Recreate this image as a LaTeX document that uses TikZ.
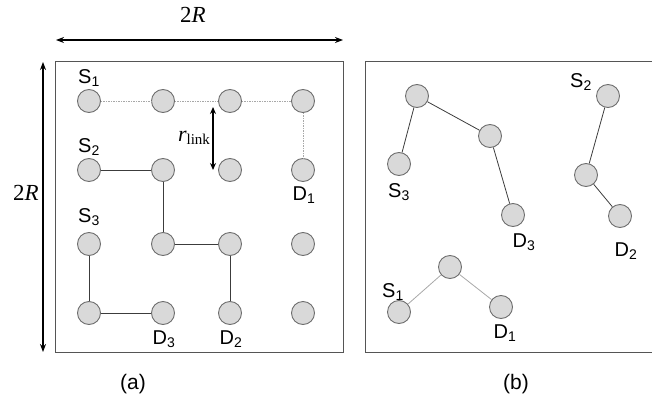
\documentclass[tikz,border=0pt]{standalone}
\usepackage{fontspec}
\setmainfont{Liberation Sans}
\newfontfamily\seriffont{Liberation Serif}
\usetikzlibrary{arrows.meta}
\definecolor{nodefill}{HTML}{D9D9D9}
\definecolor{nodeline}{HTML}{6E6E6E}
\definecolor{boxline}{HTML}{555555}
\definecolor{linkline}{HTML}{3C3C3C}
\definecolor{dotline}{HTML}{A8A8A8}
\tikzset{
  sensor/.style={circle,draw=nodeline,fill=nodefill,line width=0.9pt,minimum size=23pt,inner sep=0pt},
  lbl/.style={font=\fontsize{21}{23}\selectfont,inner sep=0pt},
  sublbl/.style={font=\fontsize{20}{22}\selectfont,inner sep=0pt},
  dimlbl/.style={font=\seriffont\fontsize{23}{25}\selectfont,inner sep=0pt},
  link/.style={draw=linkline,line width=0.8pt},
  dotlink/.style={draw=dotline,line width=0.8pt,dash pattern=on 1.5pt off 1pt},
  faintlink/.style={draw=dotline,line width=0.8pt},
  frame/.style={draw=boxline,line width=1pt},
  dimarrow/.style={line width=1.8pt,{Stealth[length=8pt,width=6pt]}-{Stealth[length=8pt,width=6pt]}}
}
\begin{document}
\begin{tikzpicture}[x=1pt,y=-1pt]
\useasboundingbox (0,0) rectangle (652,409);
% frames
\draw[frame] (55,62) rectangle (343,352);
\draw[frame] (660,62) -- (365,62) -- (365,352) -- (660,352);
\clip (0,0) rectangle (652,409);
% dimension arrows
\coordinate (hl) at (56,40);
\coordinate (hr) at (343,40);
\draw[dimarrow] (hl) -- (hr);
\node[dimlbl] (hlab) at (193,15) {2\textit{R}};
\coordinate (vt) at (43,62);
\coordinate (vb) at (43,352);
\draw[dimarrow] (vt) -- (vb);
\node[dimlbl] (vlab) at (26,193) {2\textit{R}};
% left grid
\foreach \c/\x in {1/89,2/163,3/230,4/303}{
  \foreach \r/\y in {1/101,2/170,3/244,4/313}{
    \node[sensor] (g\r\c) at (\x,\y) {};
  }
}
% dotted route S1 -> D1
\draw[dotlink] (g11) -- (g12) -- (g13) -- (g14) -- (g24);
% S2 -> D2
\draw[link] (g21) -- (g22) -- (g32) -- (g33) -- (g43);
% S3 -> D3
\draw[link] (g31) -- (g41) -- (g42);
% r_link arrow
\coordinate (rt) at (213,107);
\coordinate (rb) at (213,170);
\draw[line width=1.5pt,{Stealth[length=7pt,width=6pt]}-{Stealth[length=7pt,width=6pt]}] (rt) -- (rb);
\node[inner sep=0pt] (rl) at (194,138) {\seriffont\fontsize{22}{24}\selectfont\textit{r}\raisebox{-0.35ex}{\fontsize{15}{17}\selectfont link}};
% left labels
\node[sublbl] (ls1) at (89,78) {S\textsubscript{1}};
\node[sublbl] (ls2) at (89,147) {S\textsubscript{2}};
\node[sublbl] (ls3) at (89,217) {S\textsubscript{3}};
\node[sublbl] (ld1) at (304,195) {D\textsubscript{1}};
\node[sublbl] (ld3) at (164,339) {D\textsubscript{3}};
\node[sublbl] (ld2) at (231,339) {D\textsubscript{2}};
% right panel
\node[sensor] (ra) at (417,96) {};
\node[sensor] (rb2) at (490,136) {};
\node[sensor] (rs3) at (399,164) {};
\node[sensor] (rd3) at (513,215) {};
\node[sensor] (rs2) at (608,96) {};
\node[sensor] (rm) at (586,175) {};
\node[sensor] (rd2) at (620,216) {};
\node[sensor] (rt1) at (450,267) {};
\node[sensor] (rs1) at (399,312) {};
\node[sensor] (rd1) at (501,307) {};
\draw[link] (ra) -- (rs3);
\draw[link] (ra) -- (rb2) -- (rd3);
\draw[link] (rs2) -- (rm) -- (rd2);
\draw[faintlink] (rs1) -- (rt1) -- (rd1);
\node[sublbl] (rls3) at (399,192) {S\textsubscript{3}};
\node[sublbl] (rld3) at (524,242) {D\textsubscript{3}};
\node[sublbl] (rls2) at (581,82) {S\textsubscript{2}};
\node[sublbl] (rld2) at (626,251) {D\textsubscript{2}};
\node[sublbl] (rls1) at (393,292) {S\textsubscript{1}};
\node[sublbl] (rld1) at (505,333) {D\textsubscript{1}};
% captions
\node[lbl] (ca) at (133,384) {(a)};
\node[lbl] (cb) at (516,384) {(b)};
\end{tikzpicture}
\end{document}
